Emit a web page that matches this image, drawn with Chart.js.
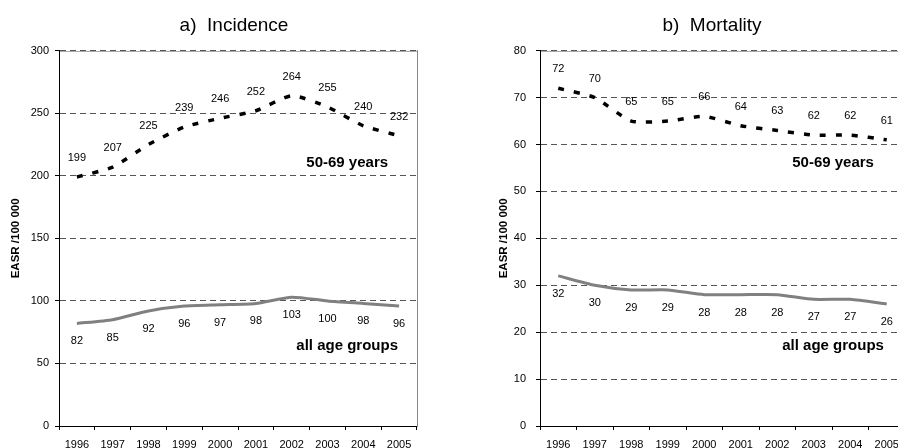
<!DOCTYPE html>
<html>
<head>
<meta charset="utf-8">
<title>Incidence and mortality, EASR /100 000</title>
<script src="https://cdn.jsdelivr.net/npm/chart.js@4.4.1/dist/chart.umd.min.js"></script>
<style>
  html, body { margin: 0; padding: 0; background: #fff; }
  body { width: 898px; height: 448px; overflow: hidden; position: relative; }
  canvas { position: absolute; top: 0; }
  #incidence { left: 0; }
  #mortality { left: 449px; }
</style>
</head>
<body>
<canvas id="incidence" width="468" height="456"></canvas>
<canvas id="mortality" width="526" height="456"></canvas>
<script>
const years = ["1996", "1997", "1998", "1999", "2000", "2001", "2002", "2003", "2004", "2005"];

const incidence5069 = [199, 207, 225, 239, 246, 252, 264, 255, 240, 232];
const incidenceAll = [82, 85, 92, 96, 97, 98, 103, 100, 98, 96];

const mortality5069 = [72, 70, 65, 65, 66, 64, 63, 62, 62, 61];
const mortalityAll = [32, 30, 29, 29, 28, 28, 28, 27, 27, 26];

const seriesNames = ["50-69 years", "all age groups"];

const FONT = '"Liberation Sans", Arial, sans-serif';
Chart.defaults.font.family = FONT;
Chart.defaults.color = "#000";

// value labels over / under each point, plus the series names inside the plot
const labelsPlugin = {
  id: "valueLabels",
  afterDatasetsDraw(chart) {
    const ctx = chart.ctx;
    ctx.save();
    ctx.fillStyle = "#000";
    ctx.textAlign = "center";
    ctx.textBaseline = "middle";
    ctx.font = "11px " + FONT;
    chart.data.datasets.forEach((ds, i) => {
      const meta = chart.getDatasetMeta(i);
      meta.data.forEach((pt, j) => {
        ctx.fillText(String(ds.data[j]), pt.x, pt.y + ds.labelOffset);
      });
    });
    const xs = chart.scales.x;
    const ys = chart.scales.y;
    ctx.font = "bold 15px " + FONT;
    chart.data.datasets.forEach((ds) => {
      ctx.fillText(ds.label, xs.getPixelForValue(ds.nameAt[0]), ys.getPixelForValue(ds.nameAt[1]));
    });
    ctx.restore();
  },
};

// grey frame line along the top of the plot area
const framePlugin = {
  id: "plotFrame",
  beforeDraw(chart) {
    const { ctx, chartArea } = chart;
    ctx.save();
    ctx.strokeStyle = "#aaa";
    ctx.lineWidth = 1;
    ctx.beginPath();
    ctx.moveTo(chartArea.left, Math.round(chartArea.top) + 0.5);
    ctx.lineTo(chartArea.right, Math.round(chartArea.top) + 0.5);
    ctx.stroke();
    ctx.restore();
  },
};

function makeChart(id, title, top, all, yMax, yStep, axisWidth, tickPad, titlePad, rightWidth, topName, allName) {
  const ctx = document.getElementById(id).getContext("2d");
  return new Chart(ctx, {
    type: "line",
    data: {
      labels: years,
      datasets: [
        {
          label: seriesNames[0],
          data: top,
          borderColor: "#000",
          borderWidth: 3.5,
          borderDash: [6, 10],
          borderCapStyle: "butt",
          pointRadius: 0,
          tension: 0.2,
          fill: false,
          labelOffset: -19,
          nameAt: topName,
        },
        {
          label: seriesNames[1],
          data: all,
          borderColor: "#808080",
          borderWidth: 3,
          pointRadius: 0,
          tension: 0.2,
          fill: false,
          labelOffset: 18,
          nameAt: allName,
        },
      ],
    },
    options: {
      responsive: false,
      animation: false,
      layout: { padding: 0 },
      plugins: {
        legend: { display: false },
        tooltip: { enabled: false },
        title: {
          display: true,
          text: title,
          color: "#000",
          font: { size: 19, weight: "normal", lineHeight: 1 },
          padding: { top: 16, bottom: 15.7 },
        },
      },
      scales: {
        x: {
          offset: true,
          grid: { offset: true, drawOnChartArea: false, tickLength: 4, tickColor: "#000", color: "#000" },
          border: { color: "#000", width: 1 },
          ticks: { padding: 8, font: { size: 11 }, maxRotation: 0, autoSkip: false },
          afterFit(scale) { scale.height = 30; },
        },
        y: {
          min: 0,
          max: yMax,
          ticks: { stepSize: yStep, padding: tickPad, font: { size: 11 } },
          grid: { color: "#555", lineWidth: 1, tickLength: 4, tickColor: "#000", tickBorderDash: [] },
          border: { color: "#000", width: 1, dash: [6, 4] },
          title: {
            display: true,
            text: "EASR /100 000",
            font: { size: 11.5, weight: "bold" },
            padding: { top: titlePad, bottom: 0 },
          },
          afterFit(scale) { scale.width = axisWidth; },
        },
        y2: {
          position: "right",
          min: 0,
          max: yMax,
          ticks: { display: false },
          grid: { drawOnChartArea: false, drawTicks: false },
          border: { color: "#888", width: 1 },
          afterFit(scale) { scale.width = rightWidth; },
        },
      },
    },
    plugins: [framePlugin, labelsPlugin],
  });
}

makeChart("incidence", "a)  Incidence", incidence5069, incidenceAll, 300, 50, 59, 6, 9, 51, [7.55, 210], [7.55, 64]);
makeChart("mortality", "b)  Mortality", mortality5069, mortalityAll, 80, 10, 91, 10, 48, 70, [7.53, 56], [7.53, 17]);
</script>
</body>
</html>
